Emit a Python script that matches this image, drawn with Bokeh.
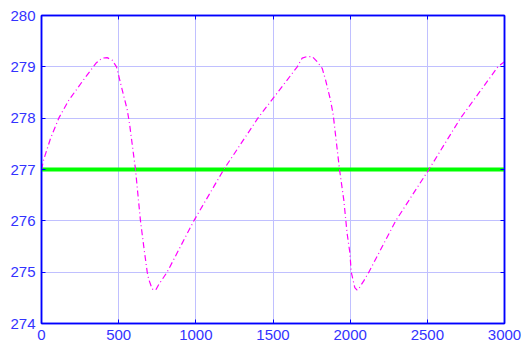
from bokeh.plotting import figure
from bokeh.models import Range1d, FixedTicker, LinearAxis
from bokeh.embed import file_html
from bokeh.resources import INLINE

# Data
curve_x = [0, 15, 58, 112, 177, 285, 356, 393, 425, 458, 486, 523, 555, 570, 609, 641,
           663, 685, 695, 717, 740, 760, 814, 987, 1181, 1402, 1657, 1689, 1720, 1754,
           1786, 1819, 1840, 1872, 1890, 1931, 1959, 1980, 1998, 2007, 2030, 2045, 2060,
           2088, 2121, 2295, 2510, 2715, 2957, 3000]
curve_y = [277.0, 277.2, 277.6, 278.0, 278.35, 278.8, 279.08, 279.17, 279.18, 279.13,
           279.0, 278.55, 278.17, 277.9, 277.0, 276.01, 275.49, 275.0, 274.86, 274.67,
           274.65, 274.76, 275.0, 276.0, 277.0, 278.0, 279.0, 279.17, 279.2, 279.2,
           279.1, 278.97, 278.75, 278.36, 278.07, 277.0, 276.4, 275.76, 275.38, 275.0,
           274.7, 274.65, 274.7, 274.83, 275.0, 276.0, 277.0, 278.0, 279.0, 279.1]
level_x = [0, 3000]
level_y = [277, 277]
x_ticks = [0, 500, 1000, 1500, 2000, 2500, 3000]
y_ticks = [274, 275, 276, 277, 278, 279, 280]

BLUE = "#0000FF"
LABEL = "#3333FF"
GRID = "#C0C0FF"
FONT = "Liberation Sans"

p = figure(width=521, height=351, output_backend="svg", toolbar_location=None,
           x_range=Range1d(0, 3000), y_range=Range1d(274, 280),
           min_border_left=41, min_border_right=17, min_border_top=15, min_border_bottom=28)
p.background_fill_color = "white"
p.border_fill_color = "white"
p.outline_line_color = BLUE
p.outline_line_width = 1.5

for ax, ticks in ((p.xaxis[0], x_ticks), (p.yaxis[0], y_ticks)):
    ax.ticker = FixedTicker(ticks=ticks)
    ax.axis_line_color = BLUE
    ax.axis_line_width = 1.5
    ax.major_tick_line_color = BLUE
    ax.major_tick_in = 4
    ax.major_tick_out = 0
    ax.minor_tick_line_color = None
    ax.major_label_text_color = LABEL
    ax.major_label_text_font = FONT
    ax.major_label_text_font_size = "15px"
    ax.major_label_standoff = 6

p.xgrid.ticker = FixedTicker(ticks=x_ticks)
p.ygrid.ticker = FixedTicker(ticks=y_ticks)
for g in (p.xgrid[0], p.ygrid[0]):
    g.grid_line_color = GRID
    g.grid_line_width = 1

# inward tick marks on the right and top edges (no labels)
for ticks, side in ((y_ticks, "right"), (x_ticks, "above")):
    ax = LinearAxis(ticker=FixedTicker(ticks=ticks), axis_line_color=BLUE,
                    axis_line_width=1.5, major_tick_line_color=BLUE,
                    major_tick_in=4, major_tick_out=0, minor_tick_line_color=None,
                    major_label_overrides={t: "" for t in ticks},
                    major_label_standoff=0)
    p.add_layout(ax, side)

p.line(level_x, level_y, line_color="#00FF00", line_width=4)
p.line(curve_x, curve_y, line_color="#FF00FF", line_width=1.2, line_dash="6 3 1 3")

open("out.html", "w").write(file_html(p, INLINE))
